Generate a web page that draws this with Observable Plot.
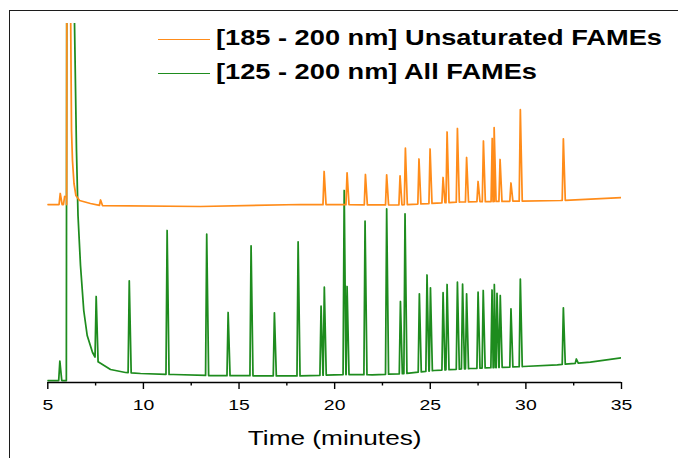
<!DOCTYPE html>
<html><head><meta charset="utf-8">
<script src="https://cdn.jsdelivr.net/npm/d3@7"></script>
<script src="https://cdn.jsdelivr.net/npm/@observablehq/plot@0.6"></script>
<style>
html,body{margin:0;padding:0;background:#fff;}
#wrap{position:relative;width:678px;height:458px;overflow:hidden;}
#frame{position:absolute;left:9px;top:10px;width:800px;height:600px;border-left:1.6px solid #1c1c1c;border-top:1.6px solid #1c1c1c;}
#chart{position:absolute;left:0;top:0;}
#legend{position:absolute;left:0;top:0;font-family:"Liberation Sans",Arial,sans-serif;font-weight:bold;font-size:22.3px;color:#000;}
.sw{position:absolute;height:0;border-top:1.6px solid;width:52px;left:158px;}
.lab{position:absolute;left:216px;white-space:nowrap;transform-origin:0 0;transform:scaleX(1.22);line-height:1;}
</style></head>
<body>
<div id="wrap">
  <div id="frame"></div>
  <div id="chart"></div>
  <div id="legend"></div>
</div>
<script>
// ---- data (time in minutes, signal in arbitrary units) ----
const seriesNames = ["[185 - 200 nm] Unsaturated FAMEs", "[125 - 200 nm] All FAMEs"];
const seriesColors = ["#ff8c1a", "#1e8c1e"];
const xTicks = [5, 10, 15, 20, 25, 30, 35];
const xMinorTicks = [7.5, 12.5, 17.5, 22.5, 27.5, 32.5];
const xLabel = "Time (minutes)";

// Orange trace (185-200 nm)
const orangeBaseT = [5.0, 5.5, 5.95, 6.24, 6.29, 6.37, 6.47, 6.66, 7.23, 7.75, 12.98, 18.21, 23.3, 26.57, 31.8, 35.0];
const orangeBaseV = [178, 178, 178, 252, 222, 199, 187, 182, 179, 177, 176, 178, 177.5, 180.5, 182, 185];
const orangeSolventT = [5.985, 5.995, 6.19];
const orangeSolventV = [178, 380, 380];
const orangePeakT = [5.65, 5.88, 7.76, 19.45, 20.65, 21.61, 22.72, 23.42, 23.70, 24.41, 24.99, 25.67, 25.88, 26.42, 26.90, 27.50, 27.78, 28.24, 28.34, 28.65, 29.22, 29.71, 31.96];
const orangePeakV = [189, 186, 182.5, 211, 209.7, 208, 207.7, 206.7, 234.3, 223.5, 233.5, 205, 250.5, 254, 225, 201, 241.5, 244, 254.8, 223, 199.5, 272.8, 243.7];

// Green trace (125-200 nm)
const greenBaseT = [5.0, 5.5, 5.95, 6.50, 6.58, 6.71, 6.88, 7.06, 7.34, 7.60, 8.28, 9.06, 9.85, 11.57, 13.30, 18.16, 20.5, 21.96, 23.74, 25.2, 27.1, 29.87, 31.64, 33.37, 35.0];
const greenBaseV = [2, 2, 2, 232, 167, 117, 72, 47, 30, 21, 13, 10, 9, 8, 7, 6.5, 8, 7.7, 9, 12, 14, 16, 17.7, 20.3, 24.7];
const greenSolventT = [5.97, 5.99, 6.38];
const greenSolventV = [2, 380, 380];
const greenPeakT = [5.63, 7.53, 9.26, 11.24, 13.31, 14.43, 15.63, 16.85, 18.09, 19.29, 19.46, 20.50, 20.65, 21.59, 22.72, 23.44, 23.68, 24.43, 24.83, 25.01, 25.67, 25.88, 26.42, 26.69, 26.90, 27.50, 27.77, 28.23, 28.35, 28.49, 28.66, 29.22, 29.71, 31.96, 32.64];
const greenPeakV = [21.3, 86, 101.7, 152, 148.3, 70, 136.7, 69.7, 140.7, 76.3, 95.3, 192, 96, 161.3, 173.7, 81, 168.7, 88.7, 107.5, 94.7, 89.8, 98, 100.3, 98.3, 88.7, 90.3, 92, 92.5, 98, 89.2, 87, 73.7, 103.4, 74.7, 23.5];

// ---- assemble traces from the peak table ----
function buildTrace(baseT, baseV, solT, solV, peakT, peakV, series) {
  const base = d3.scaleLinear().domain(baseT).range(baseV);
  const L = 0.06, R = 0.1;
  const pts = [];
  baseT.forEach((t, i) => {
    if (!peakT.some(p => t > p - L && t < p + R)) pts.push({t, v: baseV[i]});
  });
  solT.forEach((t, i) => pts.push({t, v: solV[i]}));
  peakT.forEach((p, i) => {
    pts.push({t: p - L, v: base(p - L)}, {t: p, v: peakV[i]}, {t: p + R, v: base(p + R)});
  });
  pts.sort((a, b) => a.t - b.t);
  return pts.map(d => ({...d, series}));
}
const orange = buildTrace(orangeBaseT, orangeBaseV, orangeSolventT, orangeSolventV, orangePeakT, orangePeakV, seriesNames[0]);
const green = buildTrace(greenBaseT, greenBaseV, greenSolventT, greenSolventV, greenPeakT, greenPeakV, seriesNames[1]);

const chart = Plot.plot({
  width: 678, height: 458,
  marginLeft: 47.3, marginRight: 57, marginTop: 23, marginBottom: 76,
  style: {fontFamily: "'Liberation Sans', Arial, sans-serif", fontSize: "15.4px", background: "transparent", color: "#000"},
  x: {domain: [5, 35]},
  y: {domain: [0, 359], axis: null},
  marks: [
    Plot.line(green, {x: "t", y: "v", stroke: seriesColors[1], strokeWidth: 1.75, strokeLinejoin: "round", clip: true}),
    Plot.line(orange, {x: "t", y: "v", stroke: seriesColors[0], strokeWidth: 1.75, strokeLinejoin: "round", clip: true}),
    Plot.ruleY([0], {stroke: "#000", strokeWidth: 1.5}),
    Plot.axisX({ticks: xTicks, tickSize: 7, tickPadding: 9.3, strokeWidth: 1.4, stroke: "#000", tickFormat: d => String(d), label: null}),
    Plot.axisX({ticks: xMinorTicks, tickSize: 3.5, strokeWidth: 1.4, stroke: "#000", tickFormat: () => "", label: null}),
    Plot.text([xLabel], {frameAnchor: "bottom", dy: 48, lineAnchor: "top", fontSize: 20, fill: "#000"})
  ]
});
document.getElementById("chart").appendChild(chart);

// horizontal stretch of text as in the reference picture
chart.querySelectorAll('g[aria-label="x-axis tick label"] text').forEach(t => {
  const w = t.getComputedTextLength();
  if (w > 0) { t.setAttribute("textLength", w * 1.26); t.setAttribute("lengthAdjust", "spacingAndGlyphs"); }
});
chart.querySelectorAll('g[aria-label="text"] text').forEach(t => {
  const w = t.getComputedTextLength();
  if (w > 0) { t.setAttribute("textLength", w * 1.31); t.setAttribute("lengthAdjust", "spacingAndGlyphs"); }
});

// legend
const legend = document.getElementById("legend");
const legendY = [40, 74];
seriesNames.forEach((name, i) => {
  const sw = document.createElement("div");
  sw.className = "sw";
  sw.style.top = (legendY[i] - 0.8) + "px";
  sw.style.borderTopColor = seriesColors[i];
  legend.appendChild(sw);
  const lab = document.createElement("div");
  lab.className = "lab";
  lab.style.top = (legendY[i] - 13.3) + "px";
  lab.textContent = name;
  legend.appendChild(lab);
});
</script>
</body></html>
